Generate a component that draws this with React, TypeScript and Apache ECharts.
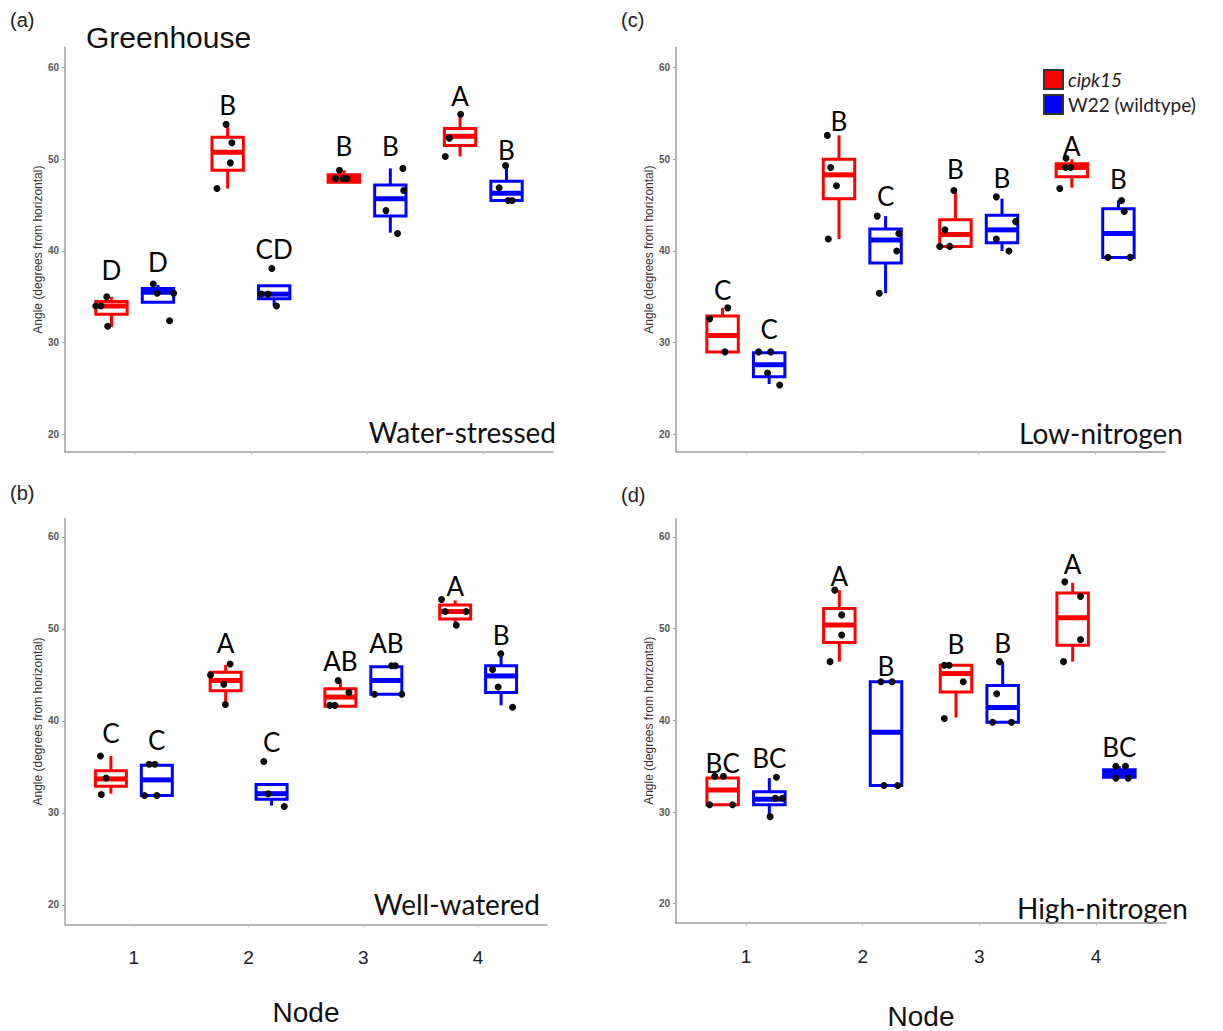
import React, { useEffect, useRef } from "react";
import * as echarts from "echarts";

// ---------- data ----------
const nodes = [1, 2, 3, 4];
const nodeTickLabels = ["1", "2", "3", "4"];
const yTicks = [20, 30, 40, 50, 60];
const genotypes = ["cipk15", "W22 (wildtype)"];
const yAxisTitle = "Angle (degrees from horizontal)";
const xAxisTitle = "Node";

// box stats per node: [lower whisker, Q1, median, Q3, upper whisker]
// (a) Water-stressed
const wsRedBox = [
  [31.7, 33.1, 34.0, 34.5, 35.0],
  [46.8, 48.8, 50.75, 52.4, 53.9],
  [47.5, 47.5, 47.9, 48.3, 48.8],
  [50.3, 51.5, 52.5, 53.35, 54.8],
];
const wsBlueBox = [
  [34.4, 34.4, 35.5, 35.9, 36.3],
  [34.0, 34.8, 35.3, 36.2, 36.2],
  [42.0, 43.8, 45.7, 47.2, 49.0],
  [45.5, 45.5, 46.3, 47.6, 49.3],
];
const wsRedPts = [[35.0, 34.0, 34.0, 31.8], [53.8, 51.8, 49.6, 46.8], [48.8, 47.9, 47.9, 47.9], [54.9, 52.3, 50.3]];
const wsRedJit = [[-0.3, -1.0, -0.67, -0.24], [-0.1, 0.27, 0.17, -0.68], [-0.28, -0.53, -0.04, 0.2], [0.04, -0.68, -0.94]];
const wsBluePts = [[36.4, 35.4, 35.4, 32.4], [38.1, 35.3, 35.3, 34.0], [49.0, 46.6, 44.4, 41.9], [49.3, 46.9, 45.5, 45.5]];
const wsBlueJit = [[-0.3, -0.05, 1.0, 0.74], [-0.15, -0.83, -0.39, 0.15], [0.8, 0.85, -0.28, 0.46], [-0.06, -0.47, 0.1, 0.36]];
const wsRedLetters = ["D", "B", "B", "A"];
const wsRedLetterY = [37.9, 55.9, 51.4, 56.9];
const wsBlueLetters = ["D", "CD", "B", "B"];
const wsBlueLetterY = [38.8, 40.2, 51.4, 51.0];

// (b) Well-watered
const wwRedBox = [
  [32.1, 32.9, 33.7, 34.6, 36.2],
  [41.8, 43.3, 44.4, 45.3, 46.1],
  [41.6, 41.6, 42.6, 43.5, 44.4],
  [50.5, 51.1, 51.9, 52.6, 53.1],
];
const wwBlueBox = [
  [31.9, 31.9, 33.6, 35.2, 35.2],
  [30.8, 31.5, 32.1, 33.1, 33.1],
  [42.9, 42.9, 44.4, 45.9, 45.9],
  [41.7, 43.1, 44.9, 46.0, 47.3],
];
const wwRedPts = [[36.2, 33.8, 32.0], [46.2, 45.0, 44.0, 41.8], [44.4, 43.1, 41.7, 41.7], [53.2, 51.9, 51.9, 50.4]];
const wwRedJit = [[-0.67, -0.31, -0.62], [0.29, -0.98, -0.12, -0.02], [-0.15, 0.55, -0.68, -0.36], [-0.88, -0.64, 0.71, 0.07]];
const wwBluePts = [[35.3, 35.3, 31.9, 31.9], [35.6, 32.1, 30.7], [46.0, 46.0, 42.9, 42.9], [47.3, 45.6, 43.7, 41.5]];
const wwBlueJit = [[-0.5, -0.12, -0.79, 0], [-0.5, -0.22, 0.82], [0.34, 0.58, -0.76, 1.0], [-0.02, -0.55, -0.19, 0.74]];
const wwRedLetters = ["C", "A", "AB", "A"];
const wwRedLetterY = [38.7, 48.5, 46.5, 54.7];
const wwBlueLetters = ["C", "C", "AB", "B"];
const wwBlueLetterY = [37.9, 37.7, 48.5, 49.3];

// (c) Low-nitrogen
const lnRedBox = [
  [29.0, 29.0, 30.8, 32.9, 33.8],
  [41.3, 45.7, 48.3, 50.0, 52.6],
  [40.5, 40.5, 41.8, 43.4, 46.6],
  [46.9, 48.1, 49.1, 49.5, 50.0],
];
const lnBlueBox = [
  [25.5, 26.3, 27.6, 28.9, 28.9],
  [35.4, 38.7, 41.2, 42.4, 43.8],
  [40.0, 40.9, 42.3, 43.9, 45.7],
  [39.3, 39.3, 41.9, 44.6, 45.5],
];
const lnRedPts = [[33.8, 32.6, 29.0], [52.6, 49.1, 47.1, 41.3], [46.6, 42.3, 40.5, 40.5], [50.1, 49.1, 49.1, 46.8]];
const lnRedJit = [[0.33, -0.82, 0.15], [-0.74, -0.53, -0.16, -0.68], [-0.1, -0.67, -1.0, -0.36], [-0.37, -0.4, -0.07, -0.77]];
const lnBluePts = [[29.0, 29.0, 26.7, 25.4], [43.8, 41.9, 40.0, 35.4], [45.9, 43.2, 41.3, 40.0], [45.5, 44.3, 39.3, 39.3]];
const lnBlueJit = [[-0.67, 0.1, -0.1, 0.67], [-0.53, 0.84, 0.71, -0.4], [-0.36, 0.87, -0.36, 0.44], [0.2, 0.37, -0.67, 0.75]];
const lnRedLetters = ["C", "B", "B", "A"];
const lnRedLetterY = [35.7, 54.2, 48.9, 51.4];
const lnBlueLetters = ["C", "C", "B", "B"];
const lnBlueLetterY = [31.5, 46.0, 48.0, 47.8];

// (d) High-nitrogen
const hnRedBox = [
  [30.8, 30.8, 32.4, 33.7, 33.9],
  [46.4, 48.5, 50.4, 52.2, 54.2],
  [40.3, 43.1, 45.1, 46.0, 46.0],
  [46.4, 48.2, 51.2, 53.9, 55.0],
];
const hnBlueBox = [
  [29.5, 30.8, 31.4, 32.2, 33.7],
  [32.9, 32.9, 38.7, 44.2, 44.2],
  [39.8, 39.8, 41.4, 43.8, 46.4],
  [33.7, 33.8, 34.2, 34.6, 35.0],
];
const hnRedPts = [[33.9, 33.9, 30.8, 30.8], [54.2, 51.5, 49.3, 46.4], [46.0, 46.0, 44.2, 40.2], [55.1, 53.5, 48.8, 46.4]];
const hnRedJit = [[-0.5, 0.05, -0.83, 0.63], [-0.29, 0.15, 0.15, -0.59], [-0.74, -0.44, 0.46, -0.74], [-0.5, 0.5, 0.5, -0.58]];
const hnBluePts = [[33.8, 31.5, 31.5, 29.5], [44.2, 44.2, 32.9, 32.9], [46.4, 42.9, 39.8, 39.8], [35.0, 35.0, 33.7, 33.7]];
const hnBlueJit = [[0.45, 0.38, 0.83, 0.05], [-0.32, 0.39, -0.13, 0.74], [-0.2, -0.38, -0.64, 0.56], [-0.22, 0.39, -0.22, 0.56]];
const hnRedLetters = ["BC", "A", "B", "A"];
const hnRedLetterY = [35.4, 55.7, 48.3, 57.0];
const hnBlueLetters = ["BC", "B", "B", "BC"];
const hnBlueLetterY = [35.9, 45.9, 48.4, 37.1];

// ---------- layout / style ----------
const RED = "#ff0000";
const BLUE = "#0000ff";
const DODGE = 0.2;
const BOX_W = 0.27;
const LETTER_FONT = "Lato, 'Open Sans', sans-serif";
const ARIAL = "'Liberation Sans', Arial, sans-serif";

const panels = [
  { tag: "(a)", cond: "Water-stressed", grid: { left: 65, top: 47.3, width: 488, height: 404.6 }, yMin: 18.1, yMax: 62.2, bottom: false,
    rb: wsRedBox, bb: wsBlueBox, rp: wsRedPts, rj: wsRedJit, bp: wsBluePts, bj: wsBlueJit, rl: wsRedLetters, rly: wsRedLetterY, bl: wsBlueLetters, bly: wsBlueLetterY,
    tagPos: [10, 10], condPos: [556, 432], nameGap: 0 },
  { tag: "(c)", cond: "Low-nitrogen", grid: { left: 676, top: 47.3, width: 489, height: 404.6 }, yMin: 18.1, yMax: 62.2, bottom: false,
    rb: lnRedBox, bb: lnBlueBox, rp: lnRedPts, rj: lnRedJit, bp: lnBluePts, bj: lnBlueJit, rl: lnRedLetters, rly: lnRedLetterY, bl: lnBlueLetters, bly: lnBlueLetterY,
    tagPos: [621, 10], condPos: [1183, 433], nameGap: 0 },
  { tag: "(b)", cond: "Well-watered", grid: { left: 65, top: 518.6, width: 482, height: 405.7 }, yMin: 17.9, yMax: 62.0, bottom: true,
    rb: wwRedBox, bb: wwBlueBox, rp: wwRedPts, rj: wwRedJit, bp: wwBluePts, bj: wwBlueJit, rl: wwRedLetters, rly: wwRedLetterY, bl: wwBlueLetters, bly: wwBlueLetterY,
    tagPos: [10, 483], condPos: [540, 904], nameGap: 74 },
  { tag: "(d)", cond: "High-nitrogen", grid: { left: 676, top: 518.6, width: 490, height: 405.7 }, yMin: 17.9, yMax: 62.0, bottom: true,
    rb: hnRedBox, bb: hnBlueBox, rp: hnRedPts, rj: hnRedJit, bp: hnBluePts, bj: hnBlueJit, rl: hnRedLetters, rly: hnRedLetterY, bl: hnBlueLetters, bly: hnBlueLetterY,
    tagPos: [621, 485], condPos: [1188, 908], nameGap: 79 },
];

function makeRenderBox(color: string) {
  return (params: any, api: any) => {
    const x = api.value(0);
    const lo = api.coord([x, api.value(1)]);
    const q1 = api.coord([x, api.value(2)]);
    const md = api.coord([x, api.value(3)]);
    const q3 = api.coord([x, api.value(4)]);
    const hi = api.coord([x, api.value(5)]);
    const w = api.size([BOX_W, 0])[0];
    const cx = lo[0];
    return {
      type: "group",
      children: [
        { type: "line", shape: { x1: cx, y1: hi[1], x2: cx, y2: q3[1] }, style: { stroke: color, lineWidth: 3 } },
        { type: "line", shape: { x1: cx, y1: q1[1], x2: cx, y2: lo[1] }, style: { stroke: color, lineWidth: 3 } },
        { type: "rect", shape: { x: cx - w / 2, y: q3[1], width: w, height: q1[1] - q3[1] }, style: { fill: "#fff", stroke: color, lineWidth: 3 } },
        { type: "line", shape: { x1: cx - w / 2, y1: md[1], x2: cx + w / 2, y2: md[1] }, style: { stroke: color, lineWidth: 5 } },
      ],
    };
  };
}

function buildOption() {
  const grids: any[] = [];
  const xAxes: any[] = [];
  const yAxes: any[] = [];
  const series: any[] = [];
  const graphics: any[] = [];

  panels.forEach((p, k) => {
    grids.push({ ...p.grid, containLabel: false });
    xAxes.push({
      type: "value", gridIndex: k, min: 0.4, max: 4.6,
      axisLine: { show: true, lineStyle: { color: "#a0a0a0", width: 1.5 } },
      axisTick: { show: true, customValues: nodes, length: 3, lineStyle: { color: "#c8c8c8" } },
      axisLabel: {
        show: p.bottom, customValues: nodes, margin: 24, fontSize: 19, color: "#222", fontFamily: ARIAL,
        formatter: (v: number) => nodeTickLabels[nodes.indexOf(Math.round(v))] ?? "",
      },
      splitLine: { show: false },
      name: p.bottom ? xAxisTitle : "", nameLocation: "middle", nameGap: p.nameGap,
      nameTextStyle: { fontSize: 28, color: "#111", fontFamily: ARIAL },
    });
    yAxes.push({
      type: "value", gridIndex: k, min: p.yMin, max: p.yMax,
      axisLine: { show: true, lineStyle: { color: "#a0a0a0", width: 1.5 } },
      axisTick: { show: true, customValues: yTicks, length: 3, lineStyle: { color: "#a0a0a0" } },
      axisLabel: { customValues: yTicks, margin: 6, fontSize: 10, color: "#555", fontWeight: "bold", fontFamily: ARIAL },
      splitLine: { show: false },
      name: yAxisTitle, nameLocation: "middle", nameGap: 20, nameRotate: 90,
      nameTextStyle: { fontSize: 12, color: "#333", fontFamily: ARIAL },
    });

    series.push({
      name: genotypes[0], type: "custom", xAxisIndex: k, yAxisIndex: k, coordinateSystem: "cartesian2d",
      itemStyle: { color: RED }, renderItem: makeRenderBox(RED), encode: { x: 0, y: [1, 2, 3, 4, 5] },
      data: nodes.map((n, i) => [n - DODGE, ...p.rb[i]]), z: 2,
    });
    series.push({
      name: genotypes[1], type: "custom", xAxisIndex: k, yAxisIndex: k, coordinateSystem: "cartesian2d",
      itemStyle: { color: BLUE }, renderItem: makeRenderBox(BLUE), encode: { x: 0, y: [1, 2, 3, 4, 5] },
      data: nodes.map((n, i) => [n + DODGE, ...p.bb[i]]), z: 2,
    });

    const pts: number[][] = [];
    nodes.forEach((n, i) => {
      p.rp[i].forEach((v, j) => pts.push([n - DODGE + (p.rj[i][j] * BOX_W) / 2, v]));
      p.bp[i].forEach((v, j) => pts.push([n + DODGE + (p.bj[i][j] * BOX_W) / 2, v]));
    });
    series.push({
      name: "points", type: "scatter", xAxisIndex: k, yAxisIndex: k, symbolSize: 7,
      itemStyle: { color: "#0a0a0a", opacity: 1 }, data: pts, z: 5,
    });

    const letters: any[] = [];
    nodes.forEach((n, i) => {
      letters.push({ name: p.rl[i], value: [n - DODGE, p.rly[i]] });
      letters.push({ name: p.bl[i], value: [n + DODGE, p.bly[i]] });
    });
    series.push({
      name: "letters", type: "scatter", xAxisIndex: k, yAxisIndex: k, symbolSize: 1,
      itemStyle: { color: "rgba(0,0,0,0)" }, data: letters, z: 6,
      label: {
        show: true, position: "inside", formatter: (q: any) => q.name, fontSize: 26, color: "#000",
        fontFamily: LETTER_FONT, textBorderWidth: 0, opacity: 1,
      },
    });

    graphics.push({ type: "text", left: p.tagPos[0], top: p.tagPos[1], style: { text: p.tag, font: `20px ${ARIAL}`, fill: "#222" } });
    graphics.push({
      type: "text", x: p.condPos[0], y: p.condPos[1],
      style: { text: p.cond, font: `28px ${LETTER_FONT}`, fill: "#111", textAlign: "right", textVerticalAlign: "middle" },
    });
  });

  graphics.push({ type: "text", left: 86, top: 22, style: { text: "Greenhouse", font: `30px ${ARIAL}`, fill: "#111" } });

  return {
    animation: false,
    backgroundColor: "#fff",
    grid: grids,
    xAxis: xAxes,
    yAxis: yAxes,
    series,
    graphic: graphics,
    legend: {
      orient: "vertical", left: 1038, top: 64, itemWidth: 19, itemHeight: 19, itemGap: 4, icon: "rect",
      textStyle: { fontSize: 19, color: "#222", fontFamily: LETTER_FONT },
      data: [
        { name: genotypes[0], itemStyle: { color: RED, borderColor: "#333", borderWidth: 2 }, textStyle: { fontStyle: "italic" } },
        { name: genotypes[1], itemStyle: { color: BLUE, borderColor: "#333", borderWidth: 2 } },
      ],
      selectedMode: false,
    },
  };
}

export default function App() {
  const ref = useRef<HTMLDivElement>(null);
  useEffect(() => {
    if (!ref.current) return;
    const chart = echarts.init(ref.current, null, { renderer: "svg" });
    chart.setOption(buildOption() as any);
    return () => chart.dispose();
  }, []);
  return <div ref={ref} style={{ position: "absolute", left: 0, top: 0, width: 1223, height: 1031 }} />;
}
